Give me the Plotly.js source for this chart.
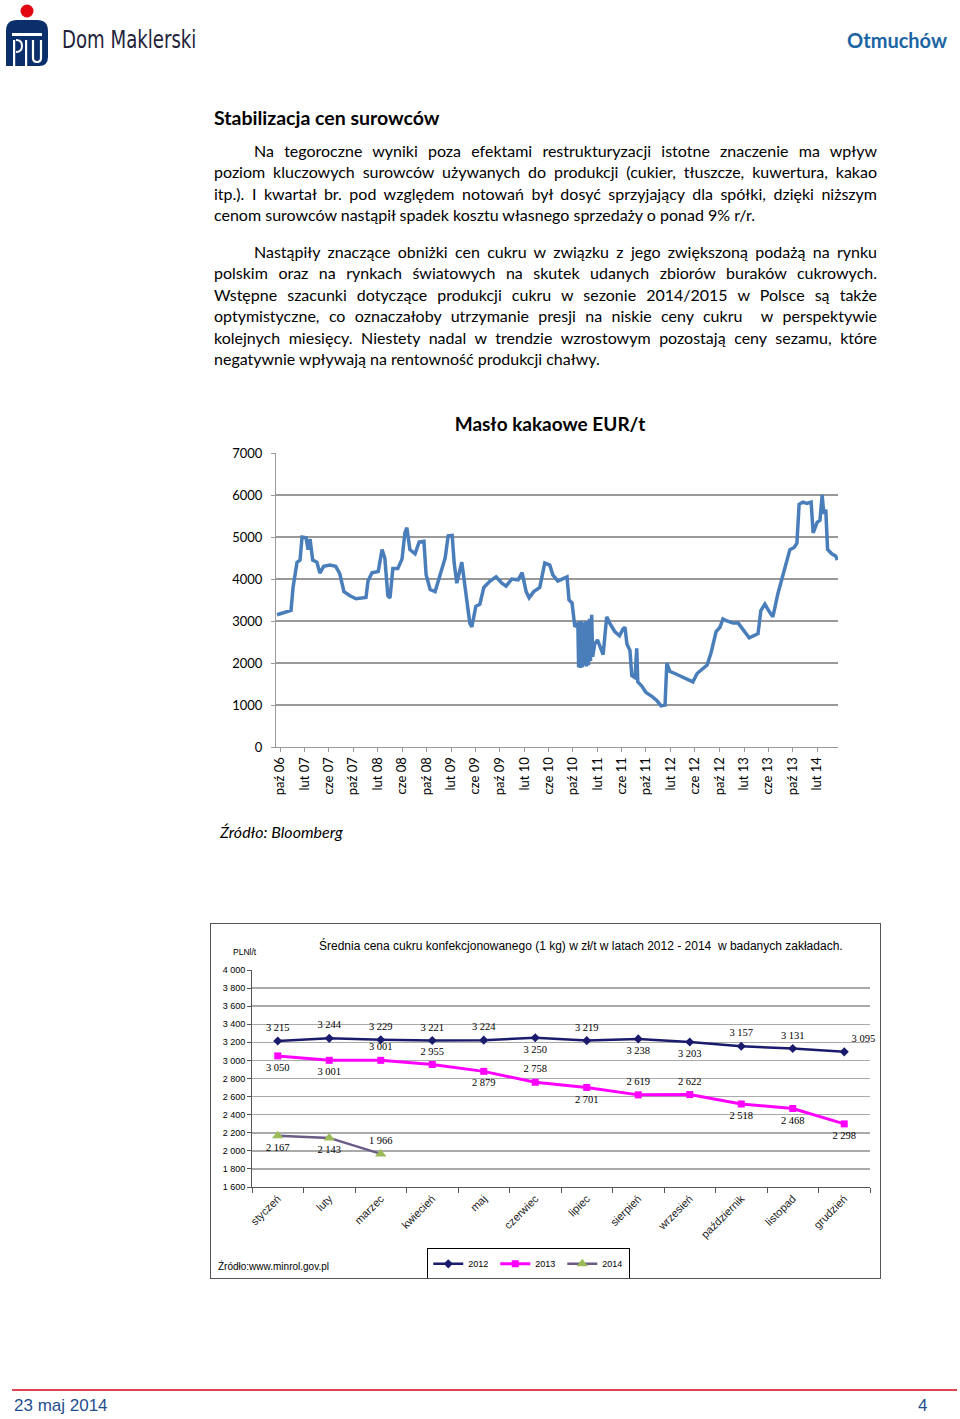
<!DOCTYPE html>
<html>
<head>
<meta charset="utf-8">
<script src="https://cdn.plot.ly/plotly-3.0.1.min.js"></script>
<style>
  html, body { margin:0; padding:0; background:#fff; }
  body { width:960px; height:1419px; position:relative; overflow:hidden; font-family: Lato, "Open Sans", sans-serif; }
  .abs { position:absolute; }
  .para { position:absolute; left:214px; width:663px; font-family:Lato, sans-serif; font-size:16px; line-height:21.4px; color:#000; }
  .para div { text-align:justify; text-align-last:justify; }
  .para div.ind { text-indent:40px; }
  .para div.last { text-align-last:left; }
</style>
</head>
<body>
<script>
// ---------- DATA ----------
// Chart 1: Masło kakaowe EUR/t
const cocoaDates = [
 '2006-09-16','2006-10-25','2006-11-25','2006-12-05','2006-12-25','2007-01-09','2007-01-19','2007-02-08','2007-02-18','2007-02-28',
 '2007-03-13','2007-04-03','2007-04-18','2007-05-07','2007-06-07','2007-07-06','2007-07-26','2007-08-16','2007-09-15','2007-10-15',
 '2007-11-14','2007-12-04','2007-12-14','2008-01-03','2008-02-03','2008-02-22','2008-03-07','2008-03-22','2008-04-02','2008-04-16',
 '2008-05-11','2008-06-01','2008-06-15','2008-06-25','2008-07-10','2008-08-05','2008-08-25','2008-09-18','2008-09-29','2008-10-19',
 '2008-11-13','2008-12-08','2009-01-02','2009-01-17','2009-02-06','2009-02-16','2009-03-01','2009-03-26','2009-04-15','2009-05-05',
 '2009-05-15','2009-06-04','2009-06-24','2009-07-14','2009-08-14','2009-09-13','2009-10-12','2009-11-02','2009-12-01','2010-01-01',
 '2010-01-21','2010-02-10','2010-02-25','2010-03-20','2010-04-19','2010-05-14','2010-06-08','2010-06-23','2010-07-18','2010-08-13',
 '2010-09-02','2010-09-12','2010-09-27','2010-10-11','2010-10-26','2010-10-30','2010-11-03','2010-11-08','2010-11-13','2010-11-18',
 '2010-11-23','2010-11-28','2010-12-03','2010-12-08','2010-12-13','2010-12-18','2010-12-23','2010-12-28','2011-01-03','2011-01-08',
 '2011-01-18','2011-02-01','2011-02-15','2011-03-01','2011-03-19','2011-04-03','2011-04-28','2011-05-22','2011-06-07','2011-06-18',
 '2011-06-28','2011-07-13','2011-07-22','2011-08-07','2011-08-16','2011-08-21','2011-09-10','2011-10-01','2011-11-01','2011-11-25',
 '2011-12-15','2012-01-04','2012-01-13','2012-01-28','2012-02-22','2012-03-18','2012-04-12','2012-05-07','2012-05-22','2012-06-12',
 '2012-07-07','2012-08-01','2012-08-21','2012-09-15','2012-10-04','2012-10-19','2012-11-08','2012-12-08','2013-01-03','2013-02-03',
 '2013-02-27','2013-03-22','2013-04-12','2013-04-26','2013-05-16','2013-06-10','2013-06-25','2013-07-20','2013-08-09','2013-08-29',
 '2013-09-18','2013-10-09','2013-10-23','2013-11-03','2013-11-22','2013-12-12','2014-01-02','2014-01-12','2014-02-01','2014-02-15',
 '2014-02-26','2014-03-06','2014-03-16','2014-03-25','2014-04-15','2014-05-04','2014-05-13'
];
const cocoaValues = [
 3150,3200,3250,3800,4400,4450,5000,4980,4700,4950,
 4450,4400,4140,4300,4330,4300,4130,3700,3600,3530,
 3560,3560,3950,4150,4180,4700,4500,3600,3550,4250,
 4250,4480,5100,5220,4700,4600,4880,4900,4100,3750,
 3700,4100,4500,5030,5040,4380,3900,4400,3600,2950,
 2860,3350,3400,3800,3950,4050,3900,3830,4000,3980,
 4150,3700,3550,3700,3800,4380,4330,4100,3950,4000,
 4050,3500,3430,2860,2950,1900,3000,1880,3000,1900,
 2950,1950,3000,1920,3000,1950,3050,2050,3150,2150,
 2450,2550,2400,2200,3100,2950,2750,2650,2800,2850,
 2450,2300,1700,1650,2350,1550,1450,1300,1200,1100,
 980,1000,2000,1800,1750,1700,1650,1600,1550,1750,
 1850,1950,2250,2750,2850,3050,3000,2950,2950,2750,
 2600,2650,2700,3250,3400,3200,3100,3650,4000,4400,
 4700,4750,4850,5780,5830,5800,5830,5100,5350,5400,
 6000,5550,5650,4700,4600,4550,4450
];
const cocoaTickDates = ['2006-10-01','2007-02-01','2007-06-01','2007-10-01','2008-02-01','2008-06-01','2008-10-01','2009-02-01',
 '2009-06-01','2009-10-01','2010-02-01','2010-06-01','2010-10-01','2011-02-01','2011-06-01','2011-10-01','2012-02-01','2012-06-01',
 '2012-10-01','2013-02-01','2013-06-01','2013-10-01','2014-02-01'];
const cocoaTickLabels = ['paź 06','lut 07','cze 07','paź 07','lut 08','cze 08','paź 08','lut 09','cze 09','paź 09','lut 10','cze 10',
 'paź 10','lut 11','cze 11','paź 11','lut 12','cze 12','paź 12','lut 13','cze 13','paź 13','lut 14'];

// Chart 2: Średnia cena cukru
const months = ['styczeń','luty','marzec','kwiecień','maj','czerwiec','lipiec','sierpień','wrzesień','październik','listopad','grudzień'];
const sugar2012 = [3215,3244,3229,3221,3224,3250,3219,3238,3203,3157,3131,3095];
const sugar2013 = [3050,3001,3001,2955,2879,2758,2701,2619,2622,2518,2468,2298];
const sugar2014 = [2167,2143,1966];
const pos2012 = ['top center','top center','top center','top center','top center','bottom center','top center','bottom center','bottom center','top center','top center','top right'];
const pos2013 = ['bottom center','bottom center','top center','top center','bottom center','top center','bottom center','top center','top center','bottom center','bottom center','bottom center'];
const pos2014 = ['bottom center','bottom center','top center'];
</script>

<!-- Header -->
<svg class="abs" style="left:0;top:0" width="52" height="70" viewBox="0 0 52 70">
  <circle cx="27" cy="11" r="6.5" fill="#e30613"/>
  <path d="M6 66 V31 Q6 20 17 20 H37 Q48 20 48 31 V57 Q48 66 39 66 Z" fill="#0b2f6b"/>
  <rect x="12" y="33" width="30" height="3" fill="#fff"/>
  <rect x="13" y="40" width="2.2" height="26" fill="#fff"/>
  <path d="M16 52 Q22 52 22 46 Q22 40 16 40" stroke="#fff" stroke-width="2" fill="none"/>
  <rect x="25" y="40" width="2.2" height="26" fill="#fff"/>
  <path d="M33 40 V58 Q33 62 37 62 Q41 62 41 58 V40" stroke="#fff" stroke-width="2.2" fill="none"/>
</svg>
<div class="abs" style="left:62px;top:26px;font-family:'Liberation Sans Narrow','DejaVu Sans Condensed',sans-serif;font-size:24px;color:#23233a;transform:scaleX(0.84);transform-origin:left top;">Dom Maklerski</div>
<div class="abs" style="right:13px;top:28px;font-family:Lato,sans-serif;font-weight:bold;font-size:20px;color:#1c64a3;">Otmuchów</div>

<!-- Heading and text -->
<div class="abs" style="left:214px;top:106px;font-family:Lato,sans-serif;font-weight:bold;font-size:19.5px;color:#000;">Stabilizacja cen surowców</div>
<div class="para" style="top:140px;">
  <div class="ind">Na tegoroczne wyniki poza efektami restrukturyzacji istotne znaczenie ma wpływ</div>
  <div>poziom kluczowych surowców używanych do produkcji (cukier, tłuszcze, kuwertura, kakao</div>
  <div>itp.). I kwartał br. pod względem notowań był dosyć sprzyjający dla spółki, dzięki niższym</div>
  <div class="last">cenom surowców nastąpił spadek kosztu własnego sprzedaży o ponad 9% r/r.</div>
</div>
<div class="para" style="top:241px;">
  <div class="ind">Nastąpiły znaczące obniżki cen cukru w związku z jego zwiększoną podażą na rynku</div>
  <div>polskim oraz na rynkach światowych na skutek udanych zbiorów buraków cukrowych.</div>
  <div>Wstępne szacunki dotyczące produkcji cukru w sezonie 2014/2015 w Polsce są także</div>
  <div>optymistyczne, co oznaczałoby utrzymanie presji na niskie ceny cukru&nbsp; w perspektywie</div>
  <div>kolejnych miesięcy. Niestety nadal w trendzie wzrostowym pozostają ceny sezamu, które</div>
  <div class="last">negatywnie wpływają na rentowność produkcji chałwy.</div>
</div>

<!-- Chart 1 -->
<div id="chart1" class="abs" style="left:200px;top:400px;width:660px;height:410px;"></div>
<div class="abs" style="left:220px;top:822px;font-family:Lato,sans-serif;font-style:italic;font-size:16px;color:#000;">Źródło: Bloomberg</div>

<!-- Chart 2 -->
<div class="abs" style="left:210px;top:923px;width:671px;height:356px;box-sizing:border-box;border:1.5px solid #555;"></div>
<div id="chart2" class="abs" style="left:211px;top:924px;width:669px;height:354px;"></div>
<div class="abs" style="left:218px;top:1261px;font-family:'Liberation Sans',Arial,sans-serif;font-size:10px;color:#000;">Źródło:www.minrol.gov.pl</div>

<!-- Footer -->
<div class="abs" style="left:12px;top:1389px;width:945px;height:2px;background:#e0464f;"></div>
<div class="abs" style="left:14px;top:1396px;font-family:'Liberation Sans Narrow',sans-serif;font-size:17px;color:#1f4f8c;">23 maj 2014</div>
<div class="abs" style="left:918px;top:1396px;font-family:'Liberation Sans Narrow',sans-serif;font-size:17px;color:#1f4f8c;">4</div>

<script>
// ---------- Chart 1 ----------
Plotly.newPlot('chart1', [{
  x: cocoaDates, y: cocoaValues, type:'scatter', mode:'lines',
  line:{color:'#4a7ebb', width:3.5}, hoverinfo:'skip'
}], {
  width:660, height:410,
  margin:{l:76, r:22, t:53, b:63},
  paper_bgcolor:'#fff', plot_bgcolor:'#fff',
  showlegend:false,
  title:{text:'<b>Masło kakaowe EUR/t</b>', font:{family:'Lato', size:19, color:'#000'}, x:0.4875, xref:'paper', xanchor:'center', y:0.94, yref:'container', yanchor:'middle'},
  xaxis:{type:'date', range:['2006-09-11','2014-05-16'], tickvals:cocoaTickDates, ticktext:cocoaTickLabels, tickangle:-90,
    tickfont:{family:'Lato', size:13, color:'#000'}, showgrid:false, showline:true, linecolor:'#999', linewidth:1,
    ticks:'outside', ticklen:4, tickcolor:'#999', zeroline:false, fixedrange:true, automargin:false},
  yaxis:{range:[0,7000], dtick:1000, tickformat:'d', tickfont:{family:'Lato', size:13, color:'#000'},
    showgrid:true, gridcolor:'#999', gridwidth:1.2, showline:true, linecolor:'#999', linewidth:1,
    ticks:'outside', ticklen:4, tickcolor:'#999', zeroline:false, ticklabelstandoff:6, fixedrange:true, automargin:false}
}, {staticPlot:true});

// ---------- Chart 2 ----------
const labelFont = {family:'Liberation Serif, Times New Roman, serif', size:10.5, color:'#000'};
function labelTrace(x, y, pos){
  return {x:x, y:y, type:'scatter', mode:'markers+text', text:y, texttemplate:'%{y:,d}', textposition:pos,
    textfont:labelFont, marker:{size:10, opacity:0}, showlegend:false, hoverinfo:'skip', cliponaxis:false};
}
Plotly.newPlot('chart2', [
  {x:months, y:sugar2012, name:'2012', type:'scatter', mode:'lines+markers',
    line:{color:'#1b1b6e', width:2.5}, marker:{symbol:'diamond', size:7, color:'#1b1b6e'}},
  {x:months, y:sugar2013, name:'2013', type:'scatter', mode:'lines+markers',
    line:{color:'#ff00ff', width:3}, marker:{symbol:'square', size:7, color:'#ff00ff'}},
  {x:months.slice(0, sugar2014.length), y:sugar2014, name:'2014', type:'scatter', mode:'lines+markers',
    line:{color:'#6a5a85', width:2.5}, marker:{symbol:'triangle-up', size:10, color:'#9bbb59'}},
  labelTrace(months, sugar2012, pos2012),
  labelTrace(months, sugar2013, pos2013),
  labelTrace(months.slice(0, sugar2014.length), sugar2014, pos2014)
], {
  width:669, height:354,
  margin:{l:41, r:10, t:46, b:91},
  separators:', ',
  paper_bgcolor:'rgba(0,0,0,0)', plot_bgcolor:'#fff',
  xaxis:{type:'category', range:[-0.5, 11.5], tickangle:-45, tickfont:{family:'Liberation Sans, Arial', size:11, color:'#222'},
    showgrid:false, showline:true, linecolor:'#555', linewidth:1, ticks:'outside', ticklen:5, tickcolor:'#555',
    tickson:'boundaries', fixedrange:true, automargin:false},
  yaxis:{range:[1600,4000], dtick:200, tickformat:',d', tickfont:{family:'Liberation Sans, Arial', size:9, color:'#000'},
    showgrid:true, gridcolor:'#aaa', gridwidth:1.5, showline:true, linecolor:'#555', linewidth:1,
    ticks:'outside', ticklen:4, tickcolor:'#555', zeroline:false, fixedrange:true, automargin:false},
  legend:{orientation:'h', xref:'container', yref:'container', x:0.475, xanchor:'center', y:0.04, yanchor:'middle',
    bordercolor:'#000', borderwidth:1, bgcolor:'#fff', font:{family:'Liberation Sans, Arial', size:9, color:'#000'},
    itemwidth:30, entrywidth:22, entrywidthmode:'pixels', tracegroupgap:0},
  annotations:[
    {text:'Średnia cena cukru konfekcjonowanego (1 kg) w zł/t w latach 2012 - 2014  w badanych zakładach.',
      xref:'paper', yref:'paper', x:0.5316, y:1.115, xanchor:'center', yanchor:'middle', showarrow:false,
      font:{family:'Liberation Sans, Arial', size:12, color:'#000'}},
    {text:'PLNl/t', xref:'paper', yref:'paper', x:-0.034, y:1.083, xanchor:'left', yanchor:'middle', showarrow:false,
      font:{family:'Liberation Sans, Arial', size:8.5, color:'#000'}}
  ]
}, {staticPlot:true});
</script>
</body>
</html>
